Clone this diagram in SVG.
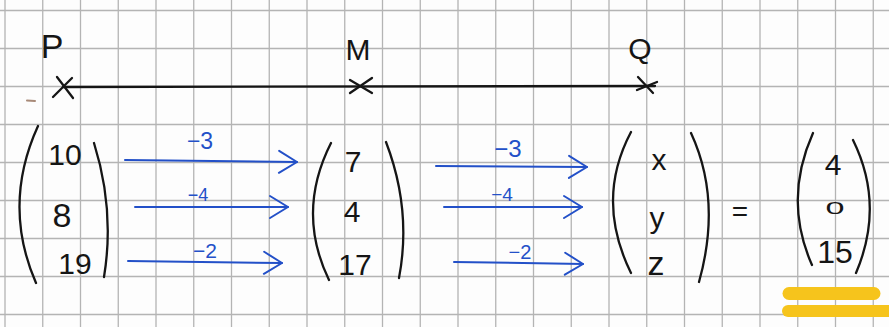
<svg xmlns="http://www.w3.org/2000/svg" width="889" height="327" viewBox="0 0 889 327">
<style>
.grid{stroke:#b4b4b4;stroke-width:1.3;fill:none}
.ink{stroke:#151515;stroke-width:2.3;fill:none;stroke-linecap:round}
.txt{font-family:"Liberation Sans",Arial,sans-serif;fill:#151515;text-anchor:middle}
.blue{stroke:#2350c8;stroke-width:2;fill:none;stroke-linecap:round}
.btxt{font-family:"Liberation Sans",Arial,sans-serif;fill:#2350c8;text-anchor:middle}
.hl{stroke:#f6c41c;fill:none;stroke-linecap:round}
</style>
<defs>
<marker id="chev" markerUnits="userSpaceOnUse" viewBox="-22 -15 25 30" markerWidth="25" markerHeight="30" refX="0" refY="0" orient="auto">
<path d="M-18,-11 L0,0 L-18,11" stroke="#2350c8" stroke-width="2" fill="none" stroke-linecap="round" stroke-linejoin="round"/>
</marker>
</defs>
<rect width="889" height="327" fill="#fdfdfd"/>
<g id="grid" class="grid">
<path d="M5,0V327M42.75,0V327M80.5,0V327M118.25,0V327M156,0V327M193.75,0V327M231.5,0V327M269.25,0V327M307,0V327M344.75,0V327M382.5,0V327M420.25,0V327M458,0V327M495.75,0V327M533.5,0V327M571.25,0V327M609,0V327M646.75,0V327M684.5,0V327M722.25,0V327M760,0V327M797.75,0V327M835.5,0V327M873.25,0V327"/>
<path d="M0,10.5H889M0,48.5H889M0,86.5H889M0,124.5H889M0,162.5H889M0,200.5H889M0,238.5H889M0,276.5H889M0,314.5H889"/>
</g>
<path d="M27,100.5 L35,101" stroke="#a88a78" stroke-width="2" stroke-linecap="round"/>
<g id="line-PQ"><path class="ink" d="M63,87 L655,86"/></g>
<g id="P">
<path class="ink" d="M57,77 L73,98 M53,97 L72,78"/>
<text class="txt" x="52" y="58" font-size="34">P</text>
</g>
<g id="M">
<path class="ink" d="M350,80 L372,93 M350,93 L372,78"/>
<text class="txt" x="358" y="60" font-size="30">M</text>
</g>
<g id="Q">
<path class="ink" d="M638,77 L653,93 M637,90 L657,82"/>
<text class="txt" x="640" y="59" font-size="30">Q</text>
</g>
<g id="vec-P">
<path class="ink" d="M38,126 Q2,205 36,283"/>
<path class="ink" d="M94,143 Q115,210 104,277"/>
<text class="txt" x="65" y="165" font-size="30">10</text>
<text class="txt" x="62" y="227" font-size="34">8</text>
<text class="txt" x="75" y="274" font-size="30">19</text>
</g>
<g id="vec-M">
<path class="ink" d="M331,143 Q296,212 329,280"/>
<path class="ink" d="M386,142 Q412,210 399,278"/>
<text class="txt" x="353" y="172" font-size="30">7</text>
<text class="txt" x="352" y="222" font-size="30">4</text>
<text class="txt" x="355" y="275" font-size="30">17</text>
</g>
<g id="vec-Q">
<path class="ink" d="M631,132 Q595,200 631,273"/>
<path class="ink" d="M691,133 Q722,200 699,282"/>
<text class="txt" x="659" y="170" font-size="30">x</text>
<text class="txt" x="657" y="228" font-size="30">y</text>
<text class="txt" x="656" y="275" font-size="34">z</text>
</g>
<g id="equals"><text class="txt" x="740" y="221" font-size="28">=</text></g>
<g id="vec-result">
<path class="ink" d="M813,133 Q783,200 812,265"/>
<path class="ink" d="M853,140 Q885,205 856,273"/>
<text class="txt" x="833" y="175" font-size="30">4</text>
<text class="txt" x="835" y="214" font-size="17" textLength="19" lengthAdjust="spacingAndGlyphs">0</text>
<text class="txt" x="835" y="263" font-size="32">15</text>
</g>
<g id="connectors">
<path class="blue" d="M125,160 L297,162" marker-end="url(#chev)"/>
<path class="blue" d="M135,207 L288,207" marker-end="url(#chev)"/>
<path class="blue" d="M128,261 L282,263" marker-end="url(#chev)"/>
<path class="blue" d="M436,166 L587,167" marker-end="url(#chev)"/>
<path class="blue" d="M444,207 L582,207" marker-end="url(#chev)"/>
<path class="blue" d="M454,262 L583,264" marker-end="url(#chev)"/>
<text class="btxt" x="200" y="149" font-size="23">−3</text>
<text class="btxt" x="198" y="201" font-size="18">−4</text>
<text class="btxt" x="205" y="258" font-size="21">−2</text>
<text class="btxt" x="508" y="157" font-size="24">−3</text>
<text class="btxt" x="502" y="201" font-size="19">−4</text>
<text class="btxt" x="520" y="259" font-size="20">−2</text>
</g>
<g id="highlight">
<path class="hl" stroke-width="13" d="M789,293.5 L874,293.5"/>
<path class="hl" stroke-width="12" d="M788,311 L889,311"/>
</g>
</svg>
